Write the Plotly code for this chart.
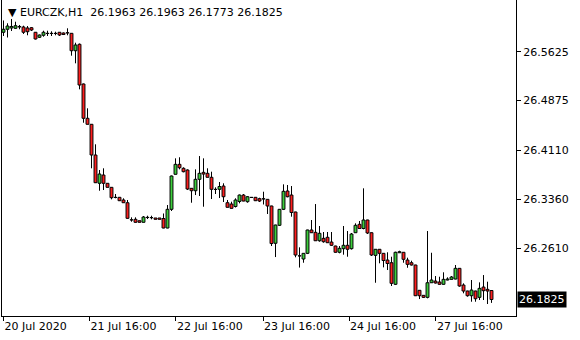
import plotly.graph_objects as go

# ---- data (EURCZK, H1) ----
opens = [26.5923, 26.5969, 26.5989, 26.5984, 26.6012, 26.6004, 26.5989, 26.5993, 26.5923, 26.5846,
         26.5877, 26.5907, 26.5904, 26.5907, 26.5923, 26.5912, 26.5917, 26.5907, 26.5640, 26.5739,
         26.5130, 26.4604, 26.4512, 26.4041, 26.3607, 26.3734, 26.3607, 26.3545, 26.3392, 26.3392,
         26.3351, 26.3309, 26.3048, 26.3055, 26.3033, 26.3009, 26.3085, 26.3082, 26.3075, 26.3075,
         26.3067, 26.2921, 26.3208, 26.3745, 26.3898, 26.3837, 26.3811, 26.3530, 26.3493, 26.3668,
         26.3775, 26.3760, 26.3699, 26.3515, 26.3515, 26.3565, 26.3309, 26.3289, 26.3251, 26.3328,
         26.3427, 26.3325, 26.3392, 26.3392, 26.3371, 26.3371, 26.3361, 26.3259, 26.2687, 26.2963,
         26.3208, 26.3489, 26.3427, 26.3167, 26.2496, 26.2446, 26.2533, 26.2891, 26.2855, 26.2726,
         26.2763, 26.2779, 26.2706, 26.2645, 26.2549, 26.2604, 26.2656, 26.2604, 26.2849, 26.2978,
         26.2914, 26.3044, 26.2849, 26.2502, 26.2595, 26.2533, 26.2430, 26.2389, 26.2058, 26.2542,
         26.2549, 26.2430, 26.2389, 26.2354, 26.1966, 26.1889, 26.1858, 26.2082, 26.2108, 26.2093,
         26.2058, 26.2124, 26.2134, 26.2139, 26.2303, 26.2047, 26.1955, 26.1883, 26.1955, 26.1858,
         26.2016, 26.1981, 26.1963]
highs = [26.6104, 26.6061, 26.6127, 26.6085, 26.6035, 26.6024, 26.6019, 26.6004, 26.5927, 26.5889,
         26.5947, 26.5947, 26.5938, 26.5932, 26.5927, 26.5920, 26.5984, 26.5912, 26.5763, 26.5751,
         26.5137, 26.4757, 26.4516, 26.4205, 26.3811, 26.3837, 26.3611, 26.3550, 26.3443, 26.3397,
         26.3377, 26.3351, 26.3085, 26.3085, 26.3036, 26.3105, 26.3110, 26.3110, 26.3075, 26.3075,
         26.3144, 26.3274, 26.3726, 26.3990, 26.4006, 26.3852, 26.3821, 26.3535, 26.3821, 26.4025,
         26.3990, 26.3837, 26.3785, 26.3545, 26.3627, 26.3607, 26.3351, 26.3325, 26.3377, 26.3435,
         26.3443, 26.3412, 26.3397, 26.3397, 26.3386, 26.3478, 26.3366, 26.3263, 26.2972, 26.3213,
         26.3591, 26.3581, 26.3565, 26.3171, 26.2625, 26.2538, 26.2895, 26.3044, 26.3289, 26.2952,
         26.2860, 26.2860, 26.2860, 26.2650, 26.2645, 26.2952, 26.2875, 26.2845, 26.2993, 26.3029,
         26.3530, 26.3048, 26.2855, 26.2599, 26.2599, 26.2538, 26.2549, 26.2481, 26.2558, 26.2573,
         26.2553, 26.2466, 26.2420, 26.2358, 26.1970, 26.1894, 26.2875, 26.2542, 26.2185, 26.2174,
         26.2242, 26.2165, 26.2185, 26.2354, 26.2308, 26.2073, 26.1960, 26.2124, 26.1960, 26.2088,
         26.2200, 26.2098, 26.1963]
lows = [26.5866, 26.5843, 26.5943, 26.5973, 26.5969, 26.5897, 26.5877, 26.5943, 26.5812, 26.5835,
        26.5855, 26.5866, 26.5866, 26.5877, 26.5866, 26.5881, 26.5877, 26.5564, 26.5447, 26.5048,
        26.4536, 26.4509, 26.3837, 26.3611, 26.3493, 26.3504, 26.3542, 26.3361, 26.3377, 26.3335,
        26.3305, 26.3064, 26.3018, 26.3002, 26.3006, 26.3006, 26.3059, 26.3055, 26.3052, 26.3052,
        26.2917, 26.2917, 26.3182, 26.3742, 26.3821, 26.3775, 26.3504, 26.3309, 26.3427, 26.3412,
        26.3248, 26.3696, 26.3366, 26.3443, 26.3381, 26.3320, 26.3236, 26.3220, 26.3236, 26.3300,
        26.3331, 26.3309, 26.3384, 26.3335, 26.3320, 26.3282, 26.3136, 26.2645, 26.2476, 26.2952,
        26.3197, 26.3392, 26.3095, 26.2472, 26.2315, 26.2389, 26.2522, 26.2845, 26.2722, 26.2711,
        26.2696, 26.2691, 26.2645, 26.2542, 26.2533, 26.2512, 26.2481, 26.2591, 26.2845, 26.2906,
        26.2901, 26.2829, 26.2492, 26.2082, 26.2380, 26.2318, 26.2277, 26.2032, 26.2047, 26.2538,
        26.2389, 26.2312, 26.2346, 26.1878, 26.1832, 26.1848, 26.1843, 26.2078, 26.2070, 26.2052,
        26.2052, 26.2119, 26.2128, 26.2134, 26.2021, 26.1920, 26.1868, 26.1791, 26.1791, 26.1817,
        26.1817, 26.1756, 26.1773]
closes = [26.5969, 26.6019, 26.6012, 26.6024, 26.6004, 26.5923, 26.5932, 26.5958, 26.5820, 26.5881,
          26.5923, 26.5904, 26.5907, 26.5904, 26.5881, 26.5889, 26.5912, 26.5640, 26.5728, 26.5114,
          26.4604, 26.4512, 26.4041, 26.3616, 26.3749, 26.3607, 26.3545, 26.3386, 26.3389, 26.3340,
          26.3309, 26.3070, 26.3044, 26.3009, 26.3009, 26.3090, 26.3082, 26.3079, 26.3055, 26.3055,
          26.2921, 26.3208, 26.3719, 26.3898, 26.3846, 26.3785, 26.3519, 26.3493, 26.3668, 26.3760,
          26.3749, 26.3699, 26.3515, 26.3512, 26.3558, 26.3401, 26.3239, 26.3223, 26.3351, 26.3427,
          26.3335, 26.3401, 26.3389, 26.3340, 26.3335, 26.3366, 26.3259, 26.2683, 26.2967, 26.3208,
          26.3484, 26.3401, 26.3159, 26.2507, 26.2492, 26.2533, 26.2891, 26.2849, 26.2726, 26.2840,
          26.2711, 26.2696, 26.2656, 26.2549, 26.2610, 26.2656, 26.2595, 26.2829, 26.2963, 26.2914,
          26.3044, 26.2845, 26.2507, 26.2595, 26.2533, 26.2423, 26.2377, 26.2073, 26.2549, 26.2558,
          26.2441, 26.2364, 26.2354, 26.1883, 26.1883, 26.1858, 26.2082, 26.2124, 26.2078, 26.2058,
          26.2134, 26.2139, 26.2170, 26.2303, 26.2032, 26.1955, 26.1883, 26.1970, 26.1837, 26.1996,
          26.1960, 26.1955, 26.1825]

bar_index = list(range(len(opens)))

x_tick_labels = ["20 Jul 2020", "21 Jul 16:00", "22 Jul 16:00", "23 Jul 16:00", "24 Jul 16:00", "27 Jul 16:00"]
x_tick_bars = [0, 21.5, 43.1, 64.9, 86.4, 108.1]
y_tick_vals = [26.5625, 26.4875, 26.4110, 26.3360, 26.2610]
y_tick_text = ["%.4f" % v for v in y_tick_vals]

symbol = "EURCZK,H1"
last_bar = (opens[-1], highs[-1], lows[-1], closes[-1])

FONT = "DejaVu Sans"
UP = "#3ccf3c"
DOWN = "#ff1e1e"

# wicks: from high down to body top, and from body bottom down to low
wick_x, wick_y = [], []
for i, o, h, l, c in zip(bar_index, opens, highs, lows, closes):
    top, bot = max(o, c), min(o, c)
    wick_x += [i, i, None, i, i, None]
    wick_y += [h, top, None, bot, l, None]

# bodies as bars based on open/close
body_base = [min(o, c) for o, c in zip(opens, closes)]
body_len = [max(abs(c - o), 0.00005) for o, c in zip(opens, closes)]
body_col = [UP if c > o else DOWN for o, c in zip(opens, closes)]

fig = go.Figure()
fig.add_trace(go.Bar(x=bar_index, y=body_len, base=body_base, width=0.72,
                     marker=dict(color=body_col, line=dict(color="black", width=1)),
                     hoverinfo="skip"))
fig.add_trace(go.Scatter(x=wick_x, y=wick_y, mode="lines",
                         line=dict(color="black", width=1), hoverinfo="skip"))

header = "\u25BC " + symbol + "\u00a0\u00a0" + " ".join("%.4f" % v for v in last_bar)

fig.update_layout(
    width=580, height=340,
    margin=dict(l=2, r=64, t=0, b=24, pad=0),
    paper_bgcolor="white", plot_bgcolor="white",
    showlegend=False,
    font=dict(family=FONT, size=11, color="black"),
    xaxis=dict(range=[-0.375, 128.125], showgrid=False, zeroline=False,
               showline=True, linecolor="black", linewidth=1, mirror=True,
               ticks="outside", ticklen=4, tickcolor="black", tickwidth=1,
               tickvals=x_tick_bars, ticktext=x_tick_labels,
               ticklabelposition="outside right",
               tickfont=dict(family=FONT, size=11, color="black"),
               fixedrange=True),
    yaxis=dict(range=[26.1572, 26.6418], side="right", showgrid=False, zeroline=False,
               showline=True, linecolor="black", linewidth=1, mirror=True,
               ticks="outside", ticklen=4, tickcolor="black", tickwidth=1,
               tickvals=y_tick_vals, ticktext=y_tick_text,
               tickfont=dict(family=FONT, size=11, color="black"), fixedrange=True),
    annotations=[
        dict(xref="paper", yref="paper", x=0, y=1, xanchor="left", yanchor="middle",
             xshift=4, yshift=-12, text=header, showarrow=False,
             font=dict(family=FONT, size=11, color="black")),
        dict(xref="paper", yref="y", x=1, y=closes[-1], xanchor="left", yanchor="middle",
             xshift=1, text="%.4f" % closes[-1], showarrow=False, bgcolor="black",
             borderpad=1, font=dict(family=FONT, size=11, color="white")),
    ],
)

fig.write_html("out.html")
